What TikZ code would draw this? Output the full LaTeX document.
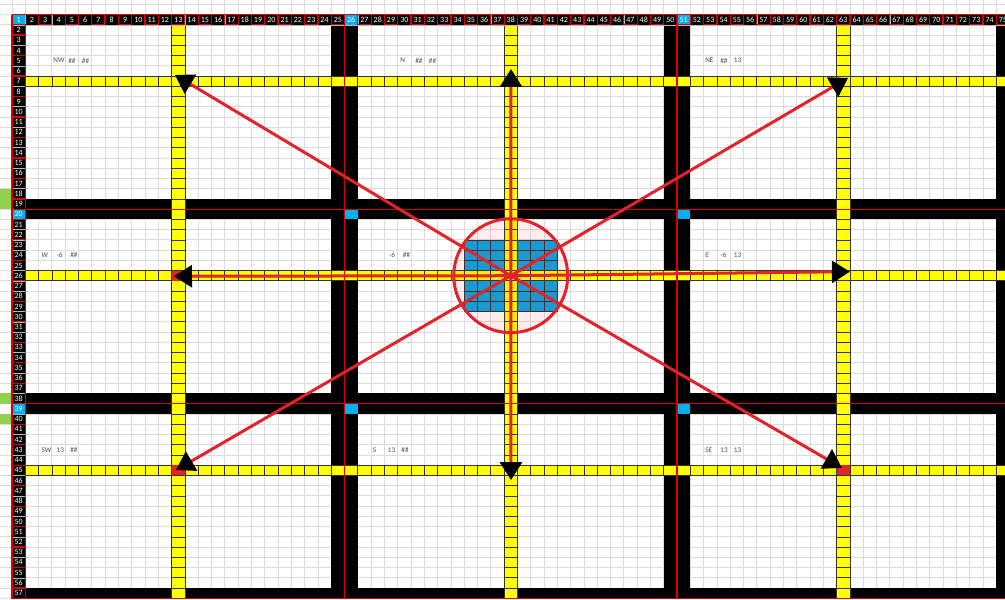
\documentclass[tikz,border=0pt]{standalone}
\usepackage{fontspec}
\setmainfont{Carlito}
\usetikzlibrary{arrows.meta}
\definecolor{road}{HTML}{FFFF00}
\definecolor{sky}{HTML}{00B0F0}
\definecolor{pool}{HTML}{0AA6E2}
\definecolor{leaf}{HTML}{92D050}
\definecolor{alarm}{HTML}{E3222A}
\definecolor{gridgray}{HTML}{DCDCDC}
\newcommand{\hh}{\#\#}
\tikzset{
  hdrcell/.style={rectangle,draw=gray!55,line width=0.3pt,fill=black,text=white,minimum width=6.65pt,minimum height=5.12pt,inner sep=0pt,font=\fontsize{4}{4}\selectfont},
  bluecell/.style={hdrcell,fill=sky},
  cellnote/.style={anchor=west,inner sep=0pt,text=black!70,font=\fontsize{3.6}{3.6}\selectfont},
  cellln/.style={black!80,line width=0.35pt},
  zoneln/.style={red!85!black,line width=0.6pt},
  rayln/.style={alarm,line width=1.5pt,-{Triangle[length=9pt,width=11pt,color=black,fill=black]}}
}
\begin{document}
\begin{tikzpicture}[x=6.65pt,y=-5.12pt]
\useasboundingbox (-0.902,-1.426) rectangle (74.662,57.07);
\fill[white] (-0.902,-1.426) rectangle (74.662,57.07);
\foreach \c in {-1,...,75} \draw[gridgray,line width=0.4pt] (\c,-1.426) -- (\c,57.07);
\foreach \r in {-1,...,57} \draw[gridgray,line width=0.4pt] (-0.902,\r) -- (74.662,\r);

\foreach \r in {18,19,38,40} \fill[leaf] (-0.902,\r-1) rectangle (0,\r);

\fill[black] (24,1) rectangle (26,57);
\fill[black] (49,1) rectangle (51,57);
\fill[black] (74,1) rectangle (75,57);
\fill[black] (1,18) rectangle (75,20);
\fill[black] (1,37) rectangle (75,39);
\fill[black] (1,56) rectangle (75,57);
\foreach \c/\r in {26/20,51/20,26/39,51/39} \fill[sky] (\c-1,\r-1) rectangle (\c,\r);

\fill[pool] (34,22) rectangle (41,29);
\foreach \i in {34,...,41} \draw[cellln] (\i,22) -- (\i,29);
\foreach \j in {22,...,29} \draw[cellln] (34,\j) -- (41,\j);

\foreach \r in {7,26,45} {
  \fill[road] (1,\r-1) rectangle (75,\r);
  \draw[cellln] (1,\r-1) -- (75,\r-1) (1,\r) -- (75,\r);
  \foreach \c in {1,...,74} \draw[cellln] (\c,\r-1) -- (\c,\r);
}
\foreach \c in {13,38,63} {
  \fill[road] (\c-1,1) rectangle (\c,57);
  \draw[cellln] (\c-1,1) -- (\c-1,57) (\c,1) -- (\c,57);
  \foreach \r in {1,...,57} \draw[cellln] (\c-1,\r) -- (\c,\r);
}
\foreach \c/\r in {13/26,13/45,63/45} \fill[alarm] (\c-1,\r-1) rectangle (\c,\r);

\node[bluecell] (h1) at (0.5,0.5) {1};
\foreach \c in {2,...,75} \node[hdrcell] (hc\c) at (\c-0.5,0.5) {\c};
\foreach \r in {2,...,57} \node[hdrcell] (hr\r) at (0.5,\r-0.5) {\r};
\foreach \c in {26,51} \node[bluecell] (hb\c) at (\c-0.5,0.5) {\c};
\foreach \r in {20,39} \node[bluecell] (hv\r) at (0.5,\r-0.5) {\r};
\foreach \c in {3,5,...,75} \draw[zoneln] (\c-1,0) rectangle (\c,1);
\foreach \r in {3,5,...,55} \draw[zoneln] (0,\r-1) rectangle (1,\r+1);
\draw[zoneln] (0,1) rectangle (1,2) (0,56) rectangle (1,57);

\draw[zoneln] (0,0) -- (75,0) (0,0) -- (0,57) (0,57) -- (75,57);
\draw[zoneln] (25,0) -- (25,57) (50,0) -- (50,57);
\draw[zoneln] (0,19) -- (75,19) (0,38) -- (75,38);

\foreach \lx/\ly/\la/\lb/\lc [count=\i] in {3.08/4.5/NW/\hh/\hh, 29.17/4.5/N/\hh/\hh, 52.1/4.5/NE/\hh/13, 2.2/23.5/W/-6/\hh, 27.2/23.5//-6/\hh, 52.1/23.5/E/-6/13, 2.2/42.5/SW/13/\hh, 27.1/42.5/S/13/\hh, 52.1/42.5/SE/13/13} {
  \node[cellnote] (dir\i) at (\lx,\ly) {\la};
  \node[cellnote] (va\i) at (\lx+1.13,\ly) {\lb};
  \node[cellnote] (vb\i) at (\lx+2.15,\ly) {\lc};
}

\coordinate (hub) at (37.5,25.5);
\node[circle,draw=alarm,line width=1.5pt,fill=red,fill opacity=0.07,minimum size=57pt,inner sep=0pt] (ring) at (hub) {};
\foreach \n/\tx/\ty in {nw/12.26/5.9, n/37.52/5.31, ne/62.86/6.19, w/12.18/25.55, e/63.0/25.1, sw/12.33/44.48, s/37.52/45.45, se/62.4/44.27}
  \coordinate (\n) at (\tx,\ty);
\foreach \n in {nw,n,ne,w,e,sw,s,se} \draw[rayln] (hub) -- (\n);
\end{tikzpicture}
\end{document}
